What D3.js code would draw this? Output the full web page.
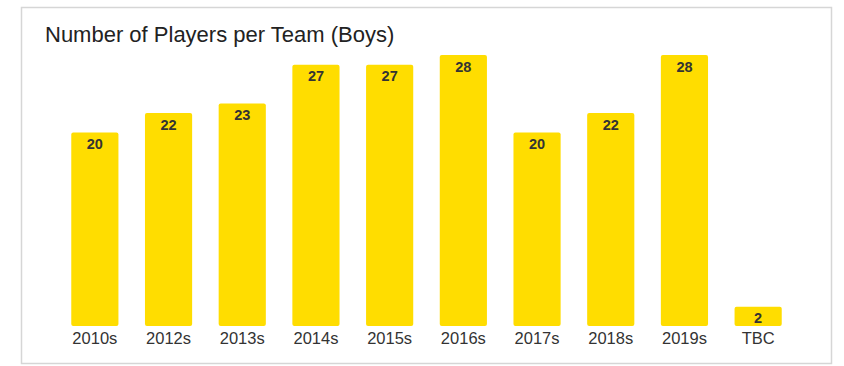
<!DOCTYPE html>
<html>
<head>
<meta charset="utf-8">
<script src="https://cdn.jsdelivr.net/npm/d3@7"></script>
<style>
  body { margin: 0; background: #fff; font-family: "Liberation Sans", Arial, sans-serif; }
</style>
</head>
<body>
<div id="chart-area"></div>
<script>
let categories = ["2010s", "2012s", "2013s", "2014s", "2015s", "2016s", "2017s", "2018s", "2019s", "TBC"];
let players = [20, 22, 23, 27, 27, 28, 20, 22, 28, 2];

let width = 844;
let height = 366;

let svg = d3.select("#chart-area")
            .append("svg")
            .attr("width", width)
            .attr("height", height);

// frame around the chart
svg.append("rect")
   .attr("x", 21.5)
   .attr("y", 7.5)
   .attr("width", 810)
   .attr("height", 356)
   .attr("fill", "#fff")
   .attr("stroke", "#d6d6d6")
   .attr("stroke-width", 1.5);

svg.append("text")
   .attr("x", 45)
   .attr("y", 42)
   .attr("font-size", 22)
   .attr("fill", "#222")
   .text("Number of Players per Team (Boys)");

let x = d3.scaleBand()
          .domain(categories)
          .range([58, 795])
          .paddingInner(0.36)
          .paddingOuter(0.18);

let y = d3.scaleLinear()
          .domain([0, 28])
          .range([326, 55]);

let bar = svg.selectAll(".bar")
             .data(categories)
             .enter()
             .append("g")
             .attr("class", "bar");

bar.append("rect")
   .attr("x", function(d){ return x(d); })
   .attr("y", function(d, i){ return y(players[i]); })
   .attr("width", x.bandwidth())
   .attr("height", function(d, i){ return y(0) - y(players[i]); })
   .attr("rx", 2)
   .attr("fill", "#ffdd00");

bar.append("text")
   .attr("x", function(d){ return x(d) + x.bandwidth() / 2; })
   .attr("y", function(d, i){ return y(players[i]) + 16.5; })
   .attr("text-anchor", "middle")
   .attr("font-size", 14.5)
   .attr("font-weight", "bold")
   .attr("fill", "#333")
   .text(function(d, i){ return players[i]; });

// category labels under the bars
let xAxis = svg.append("g")
               .attr("transform", "translate(0," + y(0) + ")")
               .call(d3.axisBottom(x).tickSize(0).tickPadding(6));

xAxis.select(".domain").remove();
xAxis.selectAll("text")
     .attr("font-family", "Liberation Sans, Arial, sans-serif")
     .attr("font-size", 16.5)
     .attr("fill", "#333");
</script>
</body>
</html>
